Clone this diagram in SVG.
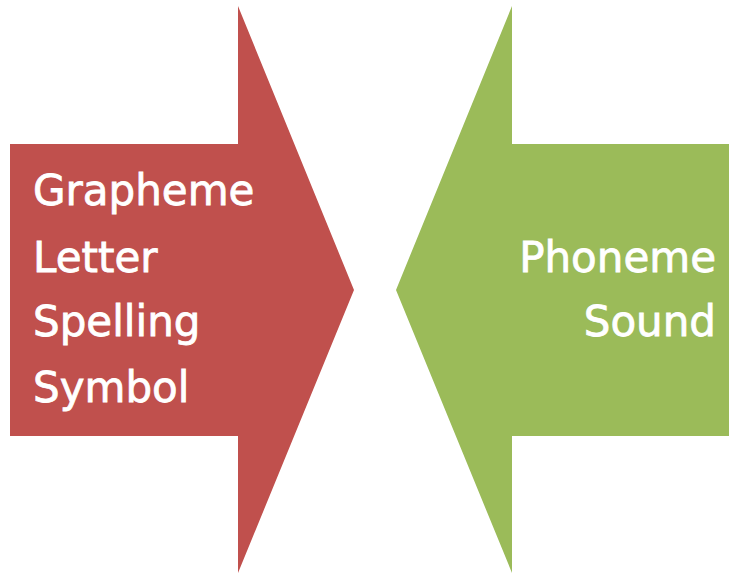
<svg xmlns="http://www.w3.org/2000/svg" width="729" height="573" viewBox="0 0 729 573">
<style>
.lbl{font-family:"DejaVu Sans","Liberation Sans",sans-serif;font-size:42px;fill:#ffffff;stroke:#ffffff;stroke-width:0.8px;}
</style>
<rect width="729" height="573" fill="#ffffff"/>
<g id="grapheme-arrow">
<polygon points="10,144 238,144 238,6 354,290 238,573 238,436 10,436" fill="#C0504D"/>
<text class="lbl" x="33" y="205">Grapheme</text>
<text class="lbl" x="33" y="272">Letter</text>
<text class="lbl" x="33" y="336">Spelling</text>
<text class="lbl" x="33" y="402">Symbol</text>
</g>
<g id="phoneme-arrow">
<polygon points="729,144 512,144 512,6 396,290 512,573 512,436 729,436" fill="#9BBB59"/>
<text class="lbl" x="716" y="272" text-anchor="end">Phoneme</text>
<text class="lbl" x="716" y="336" text-anchor="end">Sound</text>
</g>
<g id="connectors"/>
</svg>
